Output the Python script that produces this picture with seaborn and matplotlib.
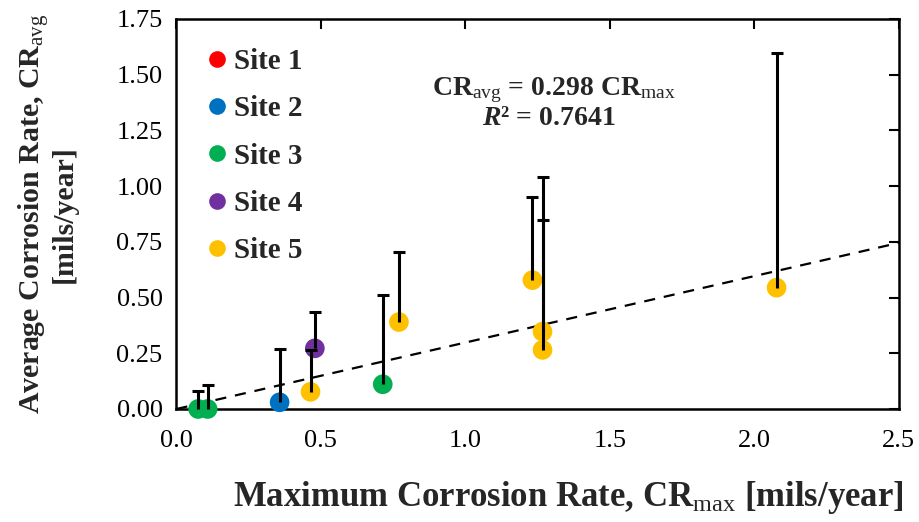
import numpy as np
import pandas as pd
import matplotlib
matplotlib.use("Agg")
import matplotlib.pyplot as plt
import seaborn as sns
from matplotlib.lines import Line2D

# Site labels and colours
sites = ["Site 1", "Site 2", "Site 3", "Site 4", "Site 5"]
site_colors = ["#FF0000", "#0070C0", "#00B050", "#7030A0", "#FFC000"]

# Measured corrosion rates per coupon [mils/year]
point_site = ["Site 3", "Site 3", "Site 2", "Site 5", "Site 4", "Site 3",
              "Site 5", "Site 5", "Site 5", "Site 5", "Site 5"]
cr_max = [0.075, 0.108, 0.357, 0.464, 0.479, 0.714, 0.770, 1.232, 1.267, 1.267, 2.077]
cr_avg = [0.000, 0.000, 0.030, 0.077, 0.272, 0.111, 0.390, 0.578, 0.347, 0.265, 0.544]
cr_avg_upper = [0.082, 0.108, 0.268, 0.265, 0.436, 0.511, 0.705, 0.952, 0.848, 1.039, 1.598]

# Regression through the origin
slope = 0.298
r_squared = 0.7641

x_ticks = [0.0, 0.5, 1.0, 1.5, 2.0, 2.5]
y_ticks = [0.00, 0.25, 0.50, 0.75, 1.00, 1.25, 1.50, 1.75]

df = pd.DataFrame({"site": point_site, "cr_max": cr_max, "cr_avg": cr_avg,
                   "upper": cr_avg_upper})

sns.set_style("white")
plt.rcParams["font.family"] = ["Liberation Serif", "DejaVu Serif"]
plt.rcParams["mathtext.fontset"] = "custom"
plt.rcParams["mathtext.rm"] = "Liberation Serif:bold"
plt.rcParams["mathtext.bf"] = "Liberation Serif:bold"
plt.rcParams["mathtext.it"] = "Liberation Serif:italic:bold"
plt.rcParams["mathtext.sf"] = "Liberation Serif"

fig = plt.figure(figsize=(9.19, 5.22), dpi=100)
ax = fig.add_axes([0.192, 0.2165, 0.786, 0.7475])

palette = dict(zip(sites, site_colors))
sns.scatterplot(data=df, x="cr_max", y="cr_avg", hue="site", hue_order=sites,
                palette=palette, s=200, edgecolor="none", linewidth=0,
                ax=ax, legend=False, zorder=3, clip_on=False)

# One-sided error bars up to the upper value (upper cap only)
_, caps, _ = ax.errorbar(df["cr_max"], df["cr_avg"],
                         yerr=[np.zeros(len(df)), df["upper"] - df["cr_avg"]],
                         fmt="none", ecolor="black", elinewidth=2.2, capsize=4.5,
                         capthick=2.2, zorder=4, clip_on=False)
caps[0].set_visible(False)

# Trend line
xs = np.array([0.0, 2.5])
sns.lineplot(x=xs, y=slope * xs, color="black", linestyle=(0, (5, 4)),
             linewidth=1.6, ax=ax, zorder=2)

ax.set_xlim(0, 2.5)
ax.set_ylim(0, 1.75)
ax.set_xticks(x_ticks)
ax.set_yticks(y_ticks)
ax.set_xticklabels([f"{v:.1f}" for v in x_ticks])
ax.set_yticklabels([f"{v:.2f}" for v in y_ticks])
ax.tick_params(axis="both", direction="in", length=7, width=1.5,
               labelsize=19, top=True, right=True, color="black",
               labelcolor="black")
ax.tick_params(axis="y", pad=10)
ax.tick_params(axis="x", pad=15)
for sp in ax.spines.values():
    sp.set_visible(True)
    sp.set_color("black")
    sp.set_linewidth(1.8)

ax.set_xlabel(r"Maximum Corrosion Rate, CR$_{\mathsf{max}}$ [mils/year]",
              fontsize=25, fontweight="bold")
ax.xaxis.set_label_coords(0.542, -0.18)
ax.set_ylabel("Average Corrosion Rate, CR$_{\\mathsf{avg}}$\n[mils/year]",
              fontsize=21.5, fontweight="bold", linespacing=0.95)
ax.yaxis.set_label_coords(-0.137, 0.5)

ax.text(0.522, 0.805, r"CR$_{\mathsf{avg}}$ = 0.298 CR$_{\mathsf{max}}$",
        transform=ax.transAxes, ha="center", va="baseline", fontsize=20,
        fontweight="bold")
ax.text(0.515, 0.728, r"$R$² = 0.7641", transform=ax.transAxes,
        ha="center", va="baseline", fontsize=20, fontweight="bold")

handles = [Line2D([], [], marker="o", linestyle="none", markersize=12,
                  markerfacecolor=c, markeredgecolor="none") for c in site_colors]
leg = ax.legend(handles, sites, loc="upper left", bbox_to_anchor=(-0.006, 0.993),
                frameon=False, prop={"weight": "bold", "size": 21},
                handletextpad=-0.08, labelspacing=0.7, handlelength=1.3,
                borderaxespad=0.5)

fig.savefig("out.png", dpi=100)
